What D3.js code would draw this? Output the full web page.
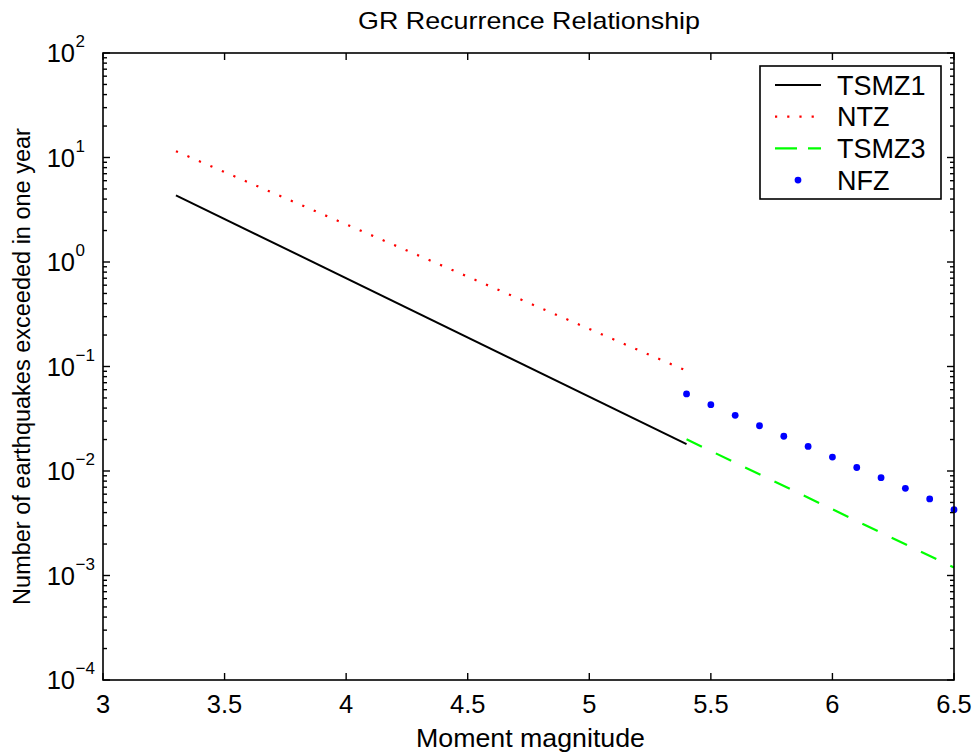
<!DOCTYPE html>
<html>
<head>
<meta charset="utf-8">
<script src="https://cdnjs.cloudflare.com/ajax/libs/d3/7.8.5/d3.min.js"></script>
<style>
  body { margin: 0; background: #fff; }
  svg { display: block; font-family: 'Liberation Sans', Arial, Helvetica, sans-serif; }
</style>
</head>
<body>
<div id="viz"></div>
<script>
// values
const tsmz1Mag = [3.3, 5.4];
const tsmz1Rate = [4.35, 0.0181];
const ntzMag = [3.3, 5.4];
const ntzRate = [11.5, 0.091];
const tsmz3Mag = [5.4, 6.5];
const tsmz3Rate = [0.0201, 0.00119];
const nfzMag = [5.4, 5.5, 5.6, 5.7, 5.8, 5.9, 6.0, 6.1, 6.2, 6.3, 6.4, 6.5];
const nfzRate = [0.0546, 0.0431, 0.0341, 0.0271, 0.0215, 0.0172, 0.0136, 0.0108, 0.00863, 0.00683, 0.0054, 0.00426];

const xTicks = [3, 3.5, 4, 4.5, 5, 5.5, 6, 6.5];
const xTickLabels = ['3', '3.5', '4', '4.5', '5', '5.5', '6', '6.5'];
const yExponents = [-4, -3, -2, -1, 0, 1, 2];
const legendNames = ['TSMZ1', 'NTZ', 'TSMZ3', 'NFZ'];

const width = 976, height = 755;
const margin = {left: 103, right: 22, top: 53, bottom: 75};
const plotW = width - margin.left - margin.right;
const plotH = height - margin.top - margin.bottom;

const svg = d3.select('#viz').append('svg')
  .attr('width', width)
  .attr('height', height);

const x = d3.scaleLinear().domain([3, 6.5]).range([margin.left, margin.left + plotW]);
const y = d3.scaleLog().domain([1e-4, 1e2]).range([margin.top + plotH, margin.top]);

const zip = (a, b) => a.map((v, i) => [v, b[i]]);
const line = d3.line().x(d => x(d[0])).y(d => y(d[1]));

// series
svg.append('path')
  .attr('d', line(zip(tsmz1Mag, tsmz1Rate)))
  .style('fill', 'none').style('stroke', '#000').style('stroke-width', 2);

svg.append('path')
  .attr('d', line(zip(ntzMag, ntzRate)))
  .style('fill', 'none').style('stroke', '#ff0000').style('stroke-width', 2.2)
  .style('stroke-dasharray', '2.2,10.3');

svg.append('path')
  .attr('d', line(zip(tsmz3Mag, tsmz3Rate)))
  .style('fill', 'none').style('stroke', '#00ff00').style('stroke-width', 2.2)
  .style('stroke-dasharray', '17,15.5');

svg.append('g').selectAll('circle')
  .data(zip(nfzMag, nfzRate))
  .join('circle')
  .attr('cx', d => x(d[0]))
  .attr('cy', d => y(d[1]))
  .attr('r', 3.4)
  .style('fill', '#0000ff');

// axes (box with inward ticks on all four sides)
const axes = svg.append('g');
const x0 = margin.left, x1 = margin.left + plotW;
const y0 = margin.top + plotH, y1 = margin.top;

axes.append('rect')
  .attr('x', x0).attr('y', y1).attr('width', plotW).attr('height', plotH)
  .style('fill', 'none').style('stroke', '#000').style('stroke-width', 1.6);

xTicks.forEach(t => {
  axes.append('line').attr('x1', x(t)).attr('x2', x(t)).attr('y1', y0).attr('y2', y0 - 7)
    .style('stroke', '#000').style('stroke-width', 1.4);
  axes.append('line').attr('x1', x(t)).attr('x2', x(t)).attr('y1', y1).attr('y2', y1 + 7)
    .style('stroke', '#000').style('stroke-width', 1.4);
});

const yMajor = yExponents.map(e => Math.pow(10, e));
const yMinor = [];
yExponents.slice(0, -1).forEach(e => {
  for (let k = 2; k <= 9; k++) yMinor.push(k * Math.pow(10, e));
});

yMajor.forEach(v => {
  axes.append('line').attr('x1', x0).attr('x2', x0 + 7).attr('y1', y(v)).attr('y2', y(v))
    .style('stroke', '#000').style('stroke-width', 1.4);
  axes.append('line').attr('x1', x1).attr('x2', x1 - 7).attr('y1', y(v)).attr('y2', y(v))
    .style('stroke', '#000').style('stroke-width', 1.4);
});
yMinor.forEach(v => {
  axes.append('line').attr('x1', x0).attr('x2', x0 + 4).attr('y1', y(v)).attr('y2', y(v))
    .style('stroke', '#000').style('stroke-width', 1.4);
  axes.append('line').attr('x1', x1).attr('x2', x1 - 4).attr('y1', y(v)).attr('y2', y(v))
    .style('stroke', '#000').style('stroke-width', 1.4);
});

// tick labels
svg.append('g').selectAll('text')
  .data(xTicks)
  .join('text')
  .attr('x', d => x(d))
  .attr('y', y0 + 33)
  .attr('text-anchor', 'middle')
  .style('font-size', '25.5px')
  .text((d, i) => xTickLabels[i]);

const yl = svg.append('g');
yExponents.forEach(e => {
  const yy = y(Math.pow(10, e));
  yl.append('text')
    .attr('x', 75).attr('y', yy + 9)
    .attr('text-anchor', 'end')
    .style('font-size', '25.5px')
    .text('10');
  yl.append('text')
    .attr('x', 75.5).attr('y', yy - 6)
    .style('font-size', '17px')
    .text(e < 0 ? '\u2212' + Math.abs(e) : String(e));
});

// title and axis labels
svg.append('text')
  .attr('x', 358).attr('y', 28.5)
  .attr('textLength', 342)
  .attr('lengthAdjust', 'spacingAndGlyphs')
  .style('font-size', '24px')
  .text('GR Recurrence Relationship');

svg.append('text')
  .attr('x', 416).attr('y', 747)
  .attr('textLength', 229)
  .attr('lengthAdjust', 'spacingAndGlyphs')
  .style('font-size', '25px')
  .text('Moment magnitude');

svg.append('text')
  .attr('transform', `translate(30,${(y0 + y1) / 2}) rotate(-90)`)
  .attr('text-anchor', 'middle')
  .style('font-size', '23.5px')
  .text('Number of earthquakes exceeded in one year');

// legend
const legend = svg.append('g');
legend.append('rect')
  .attr('x', 760).attr('y', 66).attr('width', 181).attr('height', 133)
  .style('fill', '#fff').style('stroke', '#000').style('stroke-width', 1.6);

const rowY = i => 85 + i * 31.7;
legendNames.forEach((name, i) => {
  legend.append('text')
    .attr('x', 837).attr('y', rowY(i) + 9.5)
    .style('font-size', '27px')
    .text(name);
});
legend.append('line').attr('x1', 775).attr('x2', 821).attr('y1', rowY(0)).attr('y2', rowY(0))
  .style('stroke', '#000').style('stroke-width', 2);
legend.append('line').attr('x1', 775).attr('x2', 821).attr('y1', rowY(1)).attr('y2', rowY(1))
  .style('stroke', '#ff0000').style('stroke-width', 2.2).style('stroke-dasharray', '2.2,10');
legend.append('line').attr('x1', 775).attr('x2', 821).attr('y1', rowY(2)).attr('y2', rowY(2))
  .style('stroke', '#00ff00').style('stroke-width', 2.2).style('stroke-dasharray', '22,11');
legend.append('circle').attr('cx', 798).attr('cy', rowY(3)).attr('r', 3.4)
  .style('fill', '#0000ff');
</script>
</body>
</html>
